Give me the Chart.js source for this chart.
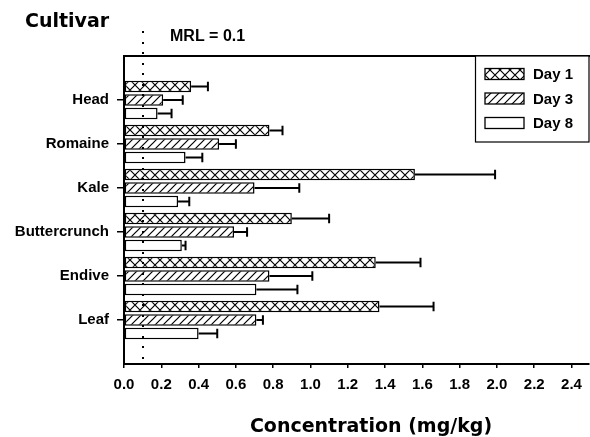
<!DOCTYPE html>
<html>
<head>
<meta charset="utf-8">
<script src="https://cdn.jsdelivr.net/npm/chart.js@4.4.0/dist/chart.umd.min.js"></script>
<style>
  html, body { margin: 0; padding: 0; background: #fff; }
  #wrap { width: 590px; height: 437px; }
</style>
</head>
<body>
<div id="wrap"><canvas id="c" width="590" height="437"></canvas></div>
<script>
// ---- data ----
const categories = ['Head', 'Romaine', 'Kale', 'Buttercrunch', 'Endive', 'Leaf'];
const seriesNames = ['Day 1', 'Day 3', 'Day 8'];
const day1 = [0.36, 0.78, 1.56, 0.90, 1.35, 1.37];
const day1Err = [0.09, 0.07, 0.43, 0.20, 0.24, 0.29];
const day3 = [0.21, 0.51, 0.70, 0.59, 0.78, 0.71];
const day3Err = [0.105, 0.09, 0.24, 0.07, 0.23, 0.035];
const day8 = [0.18, 0.33, 0.29, 0.31, 0.71, 0.40];
const day8Err = [0.075, 0.09, 0.06, 0.02, 0.22, 0.10];
const xTicks = [0.0, 0.2, 0.4, 0.6, 0.8, 1.0, 1.2, 1.4, 1.6, 1.8, 2.0, 2.2, 2.4];
const mrl = 0.1;

// ---- patterns ----
function makeCross() {
  const c = document.createElement('canvas');
  c.width = 10; c.height = 10;
  const g = c.getContext('2d');
  g.fillStyle = '#fff'; g.fillRect(0, 0, 10, 10);
  g.strokeStyle = '#000'; g.lineWidth = 1.2;
  g.beginPath();
  g.moveTo(0, 0); g.lineTo(10, 10);
  g.moveTo(10, 0); g.lineTo(0, 10);
  g.stroke();
  return g.createPattern(c, 'repeat');
}
function makeHatch() {
  const c = document.createElement('canvas');
  c.width = 8; c.height = 8;
  const g = c.getContext('2d');
  g.fillStyle = '#fff'; g.fillRect(0, 0, 8, 8);
  g.strokeStyle = '#000'; g.lineWidth = 1.2;
  g.beginPath();
  g.moveTo(-1, 9); g.lineTo(9, -1);
  g.moveTo(-1, 1); g.lineTo(1, -1);
  g.moveTo(7, 9); g.lineTo(9, 7);
  g.stroke();
  return g.createPattern(c, 'repeat');
}
const fills = [makeCross(), makeHatch(), '#ffffff'];
const values = [day1, day3, day8];
const errors = [day1Err, day3Err, day8Err];

const labels = [''].concat(categories, ['']);
const pad = arr => [null].concat(arr, [null]);

const FONT = '"Liberation Sans", Arial, sans-serif';

const decorPlugin = {
  id: 'decor',
  afterDatasetsDraw(chart) {
    const ctx = chart.ctx;
    const xs = chart.scales.x;
    const area = chart.chartArea;
    ctx.save();
    // error bars
    ctx.strokeStyle = '#000';
    ctx.lineWidth = 2;
    for (let d = 0; d < values.length; d++) {
      const meta = chart.getDatasetMeta(d);
      for (let i = 0; i < categories.length; i++) {
        const el = meta.data[i + 1];
        if (!el) continue;
        const v = values[d][i], e = errors[d][i];
        const x0 = xs.getPixelForValue(v);
        const x1 = xs.getPixelForValue(v + e);
        const y = el.y;
        const h = el.height * 0.85;
        ctx.beginPath();
        ctx.moveTo(x0, y); ctx.lineTo(x1, y);
        ctx.moveTo(x1, y - h / 2); ctx.lineTo(x1, y + h / 2);
        ctx.stroke();
      }
    }
    // MRL dotted line
    const mx = xs.getPixelForValue(mrl);
    ctx.fillStyle = '#000';
    for (let y = 32; y < area.bottom - 2; y += 10.5) {
      ctx.fillRect(Math.round(mx) - 1, Math.round(y) - 1, 2, 2);
    }
    // top border
    ctx.lineWidth = 2;
    ctx.beginPath();
    ctx.moveTo(area.left, area.top); ctx.lineTo(chart.width, area.top);
    ctx.stroke();
    // legend
    const lx = 475, ly = area.top, lw = chart.width - 1 - lx, lh = 86;
    ctx.fillStyle = '#fff';
    ctx.fillRect(lx, ly, lw, lh);
    ctx.lineWidth = 1.2;
    ctx.strokeRect(lx + 0.5, ly, lw - 0.5, lh);
    ctx.font = 'bold 15px ' + FONT;
    ctx.textBaseline = 'middle';
    ctx.textAlign = 'left';
    for (let k = 0; k < seriesNames.length; k++) {
      const cy = 74 + k * 24.5;
      ctx.fillStyle = fills[k];
      ctx.fillRect(485, cy - 5.5, 39, 11);
      ctx.lineWidth = 1.3;
      ctx.strokeStyle = '#000';
      ctx.strokeRect(485, cy - 5.5, 39, 11);
      ctx.fillStyle = '#000';
      ctx.fillText(seriesNames[k], 533, cy + 1);
    }
    // texts
    ctx.font = 'bold 19px "DejaVu Sans", sans-serif';
    ctx.textBaseline = 'middle';
    ctx.fillText('Cultivar', 25, 22);
    ctx.textAlign = 'center';
    ctx.fillText('Concentration (mg/kg)', 371, 427);
    ctx.font = 'bold 16px ' + FONT;
    ctx.textAlign = 'left';
    ctx.fillText('MRL = 0.1', 170, 37);
    ctx.restore();
  }
};

new Chart(document.getElementById('c'), {
  type: 'bar',
  data: {
    labels: labels,
    datasets: seriesNames.map((n, k) => ({
      label: n,
      data: pad(values[k]),
      backgroundColor: fills[k],
      borderColor: '#000',
      borderWidth: 1.5,
      borderSkipped: false,
      categoryPercentage: 0.92,
      barPercentage: 0.84
    }))
  },
  options: {
    indexAxis: 'y',
    responsive: false,
    animation: false,
    devicePixelRatio: 1,
    layout: { padding: { top: 56, right: 1, left: 0, bottom: 0 } },
    plugins: { legend: { display: false }, tooltip: { enabled: false } },
    scales: {
      x: {
        type: 'linear',
        min: 0,
        max: 2.49,
        afterFit(s) { s.height = 73; },
        afterBuildTicks(s) { s.ticks = xTicks.map(v => ({ value: v })); },
        ticks: {
          color: '#000',
          font: { family: FONT, size: 15, weight: 'bold' },
          padding: 8,
          maxRotation: 0,
          autoSkip: false,
          callback: v => Number(v).toFixed(1)
        },
        grid: { drawOnChartArea: false, drawTicks: true, tickLength: 4, color: '#000', lineWidth: 1.5 },
        border: { display: true, color: '#000', width: 2 }
      },
      y: {
        type: 'category',
        offset: false,
        afterFit(s) { s.width = 124; },
        ticks: {
          color: '#000',
          font: { family: FONT, size: 15, weight: 'bold' },
          padding: 8,
          autoSkip: false
        },
        grid: {
          offset: false,
          drawOnChartArea: false,
          drawTicks: true,
          tickLength: 7,
          lineWidth: 1.5,
          color: c => (c.index === 0 || c.index === labels.length - 1) ? 'rgba(0,0,0,0)' : '#000'
        },
        border: { display: true, color: '#000', width: 2 }
      }
    }
  },
  plugins: [decorPlugin]
});
</script>
</body>
</html>
